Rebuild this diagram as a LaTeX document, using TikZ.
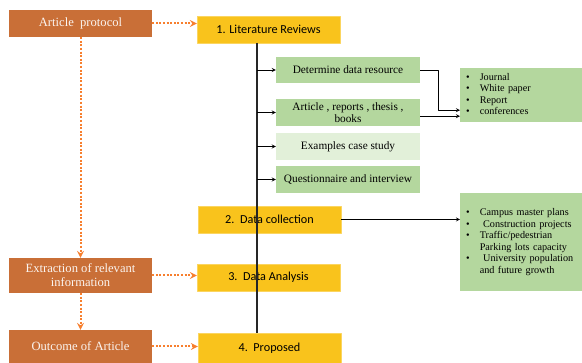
\documentclass[tikz,border=0pt]{standalone}
\usepackage{fontspec}
\setmainfont{Liberation Serif}
\newfontfamily\calibri{Carlito}
\definecolor{rust}{HTML}{C96F37}
\definecolor{gold}{HTML}{F9C31C}
\definecolor{leaf}{HTML}{B4D79E}
\definecolor{paleleaf}{HTML}{E2F0D9}
\definecolor{dotorange}{HTML}{F77F2E}
\begin{document}
\begin{tikzpicture}[x=1pt, y=-1pt, line join=round, >=stealth,
	stepbox/.style={fill=rust, text=white!92!rust, minimum width=143pt, inner sep=2pt, align=center, font=\fontsize{12.6}{14}\selectfont},
	phase/.style={fill=gold, draw=gold!70!white, minimum width=143pt, minimum height=27pt, font=\calibri\fontsize{12.2}{14}\selectfont},
	task/.style={fill=leaf, minimum width=144pt, minimum height=27pt, inner sep=1pt, align=center, font=\fontsize{11.3}{12}\selectfont},
	listbox/.style={fill=leaf, text width=110pt, anchor=north west, inner xsep=6pt, align=left, font=\fontsize{10.2}{11.6}\selectfont},
	flow/.style={->, dotorange, line width=2pt, dash pattern=on 2pt off 1.6pt},
	feed/.style={->, line width=0.8pt}]
	\useasboundingbox (0,0) rectangle (582,363);
	% left column
	\node[stepbox, minimum height=27pt] (protocol) at (80.5,23.5) {Article\ \ protocol};
	\node[stepbox, minimum height=35pt] (extract) at (80.5,275.5) {Extraction of relevant\\information};
	\node[stepbox, minimum height=33pt] (outcome) at (80.5,346.5) {Outcome of Article};
	% phases
	\node[phase] (litrev) at (268.5,29.5) {1. Literature Reviews};
	\node[phase] (datacol) at (269.5,219.5) {2.\ \ Data collection};
	\node[phase] (analysis) at (268.5,277.5) {3.\ \ Data Analysis};
	% spine
	\coordinate (spine) at (257,43);
	\coordinate (spineend) at (257,335);
	\draw[line width=1.3pt, black!85] (spine) -- (spineend);
	\node[phase, minimum height=30pt] (proposed) at (269.5,348) {4.\ \ Proposed};
	% tasks
	\node[task, minimum height=26pt] (determine) at (348,70) {Determine data resource};
	\node[task] (artic) at (348,112.5) {Article , reports , thesis ,\\books};
	\node[task, fill=paleleaf] (examples) at (348,146.5) {Examples case study};
	\node[task] (quest) at (348,179.5) {Questionnaire and interview};
	\node[listbox, minimum height=54pt] (sources) at (460,68) {\begin{tabular}{@{}l@{\hspace{10pt}}l@{}}
		\textbullet & Journal\\ \textbullet & White paper\\ \textbullet & Report\\ \textbullet & conferences\end{tabular}};
	\node[listbox, minimum height=98pt] (campus) at (460,193) {\begin{tabular}{@{}l@{\hspace{10pt}}l@{}}
		\textbullet & Campus master plans\\ \textbullet & \ Construction projects\\ \textbullet & Traffic/pedestrian\\ & Parking lots capacity\\
		\textbullet & \ University population\\ & and future growth\end{tabular}};
	\foreach \t in {determine,artic,examples,quest}
		\draw[feed] (\t.west -| spine) -- (\t.west);
	\draw[feed] (determine.east) -- ++(18,0) |- ([yshift=-15pt]sources.west);
	\draw[feed] ([yshift=-21pt]sources.west -| artic.east) -- ([yshift=-21pt]sources.west);
	\draw[feed] (datacol.east) -- (datacol.east -| campus.west);
	% dotted flow
	\draw[flow] (protocol.east) -- (protocol.east -| litrev.west);
	\draw[flow] (protocol.south) -- (extract.north);
	\draw[flow] (extract.east) -- (extract.east -| analysis.west);
	\draw[flow] (extract.south) -- (outcome.north);
	\draw[flow] (outcome.east) -- (outcome.east -| proposed.west);
\end{tikzpicture}
\end{document}
